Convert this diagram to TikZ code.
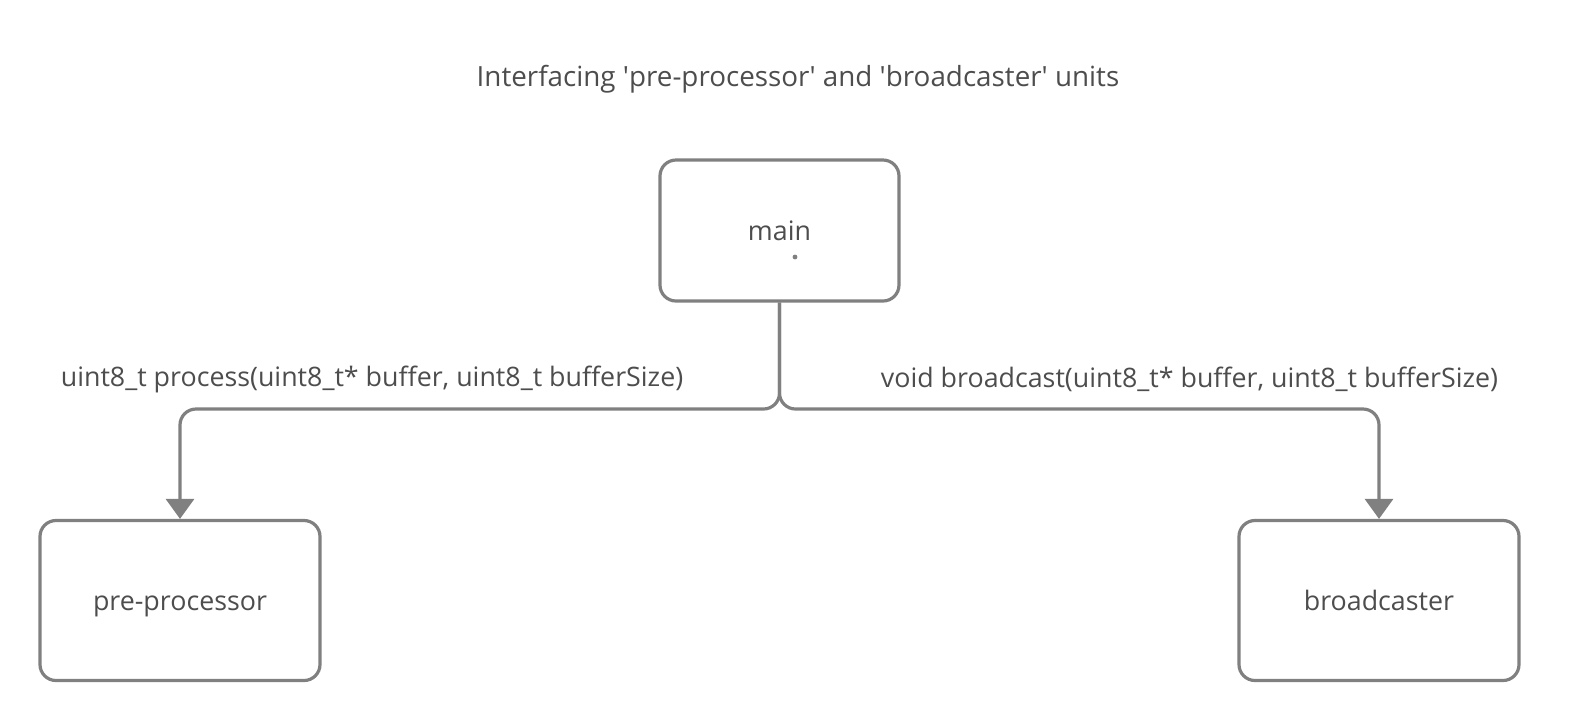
\documentclass[tikz,border=0pt]{standalone}
\usepackage{fontspec}
\setmainfont{Open Sans}
\usetikzlibrary{arrows.meta}
\definecolor{linegray}{HTML}{808080}
\definecolor{textgray}{HTML}{4D4D4D}
\tikzset{
  unitbox/.style={draw=linegray, line width=1.6pt, rounded corners=8pt, fill=white,
    inner sep=0pt, text=textgray, font=\fontsize{13.4}{16}\selectfont},
  conn/.style={draw=linegray, line width=1.6pt, rounded corners=8pt,
    -{Triangle[width=14pt,length=10pt]}},
  lbl/.style={text=textgray, font=\fontsize{13.4}{16}\selectfont, inner sep=0pt},
}
\begin{document}
\begin{tikzpicture}[x=0.5pt, y=-0.5pt]
\useasboundingbox (0,0) rectangle (1581,720);
\node[lbl, font=\fontsize{13.9}{16}\selectfont] (title) at (798,79) {Interfacing \textquotesingle pre-processor\textquotesingle{} and \textquotesingle broadcaster\textquotesingle{} units};
\node[unitbox, minimum width=119.5pt, minimum height=70.5pt] (main) at (779.5,230.5) {main};
\node[unitbox, minimum width=140pt, minimum height=80pt, text height=10.2pt, text depth=0pt] (pre) at (180,600.5) {pre-processor};
\node[unitbox, minimum width=140pt, minimum height=80pt] (bc) at (1379,600.5) {broadcaster};
\fill[linegray] (795,257) circle (1.2pt);
\coordinate (split) at (779.5,409);
\draw[conn] (main.south) -- (split) -| (pre.north);
\draw[conn] (main.south) -- (split) -| (bc.north);
\node[lbl] (l1) at (372,379) {uint8\_t process(uint8\_t* buffer, uint8\_t bufferSize)};
\node[lbl] (l2) at (1189.5,379) {void broadcast(uint8\_t* buffer, uint8\_t bufferSize)};
\end{tikzpicture}
\end{document}
